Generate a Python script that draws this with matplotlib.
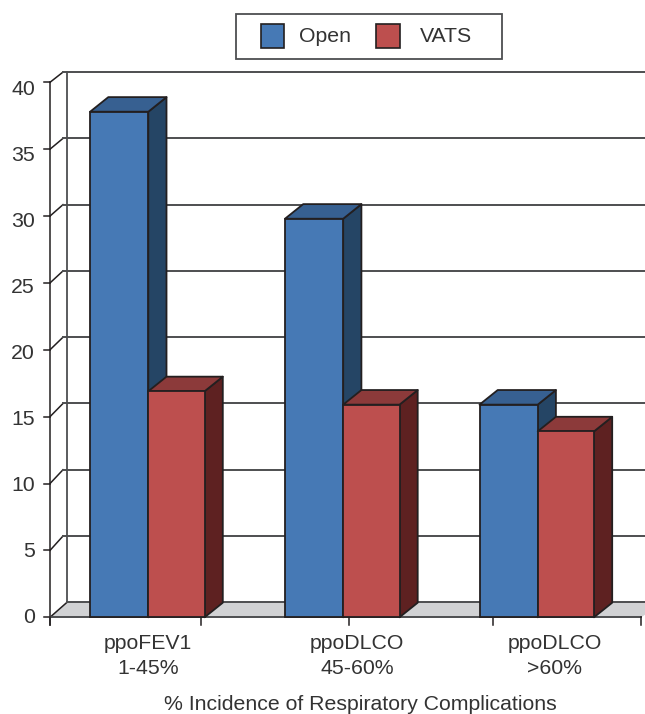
#!/usr/bin/env python3
"""Pseudo-3D clustered bars: respiratory complications, open vs VATS."""

import matplotlib

matplotlib.use("Agg")
import matplotlib.pyplot as plt
from matplotlib.patches import Polygon, Rectangle
from matplotlib.transforms import Affine2D

plt.rcParams["font.family"] = ["Liberation Sans", "DejaVu Sans"]

CATEGORIES = ["ppoFEV1\n1-45%", "ppoDLCO\n45-60%", "ppoDLCO\n>60%"]
SERIES = ["Open", "VATS"]
OPEN_VALUES = [37.8, 29.8, 15.9]
VATS_VALUES = [16.9, 15.9, 13.9]
Y_TICKS = [0, 5, 10, 15, 20, 25, 30, 35, 40]

WIDTH, HEIGHT = 645, 714
PX_PER_UNIT = 13.375
BASE_PX = 617.3
FONT_SIZE = 15.3

# x runs in pixels, y in chart units
GROUP_X = [148.3, 343.2, 537.7]
LABEL_X = [148, 357, 555]
TICK_X = [50, 200.7, 349.3, 492.7, 641]
FRONT_LEFT, BACK_LEFT = 50, 67
BAR_W = [58.2, 56.3]
DEPTH_X, DEPTH_Y = 18.2, 14.6 / PX_PER_UNIT

LINE = "#4d4e50"
EDGE = "#231f20"
TEXT = "#333333"
FLOOR = "#d1d2d4"
FACE = {"Open": "#4679b5", "VATS": "#bd4f4e"}
TOP = {"Open": "#376091", "VATS": "#8c3a3a"}
SIDE = {"Open": "#254565", "VATS": "#5e2121"}


def back_y(v):
    # the rear wall is a touch shorter than the front plane
    return v * 66.3 / 66.9 + 15.0 / PX_PER_UNIT


def draw_walls(ax):
    ax.add_patch(Polygon(
        [(FRONT_LEFT, 0), (BACK_LEFT, back_y(0)), (WIDTH + 20, back_y(0)), (TICK_X[-1], 0)],
        closed=True, facecolor=FLOOR, edgecolor="none", zorder=1,
    ))
    for v in Y_TICKS:
        ax.plot([FRONT_LEFT - 6, FRONT_LEFT], [v, v], color=EDGE, lw=1.1, zorder=2)
        end_x = BACK_LEFT if v == 0 else BACK_LEFT - 4
        ax.plot([FRONT_LEFT, end_x], [v, back_y(v)], color=EDGE, lw=1.1, zorder=2)
        ax.plot([end_x, WIDTH], [back_y(v), back_y(v)], color=LINE, lw=1.4, zorder=2)
        ax.text(35, v * 0.9875 - 0.05, str(v), ha="right", va="center", fontsize=FONT_SIZE, color=TEXT)

    ax.plot([BACK_LEFT, BACK_LEFT], [back_y(0), back_y(40)], color=LINE, lw=1.3, zorder=2)
    ax.plot([FRONT_LEFT, FRONT_LEFT], [-8 / PX_PER_UNIT, 40], color=EDGE, lw=1.1, zorder=2)
    ax.plot([FRONT_LEFT, TICK_X[-1]], [0, 0], color=LINE, lw=1.4, zorder=2)
    for x in TICK_X:
        ax.plot([x, x], [0, -8 / PX_PER_UNIT], color=EDGE, lw=1.1, zorder=2)


def draw_bar(ax, left, width, value, name, zorder):
    right = left + width
    style = dict(closed=True, edgecolor=EDGE, linewidth=1.3, joinstyle="round", zorder=zorder)
    ax.add_patch(Polygon(
        [(right, 0), (right + DEPTH_X, DEPTH_Y), (right + DEPTH_X, value + DEPTH_Y), (right, value)],
        facecolor=SIDE[name], **style,
    ))
    ax.add_patch(Polygon(
        [(left, value), (left + DEPTH_X, value + DEPTH_Y), (right + DEPTH_X, value + DEPTH_Y), (right, value)],
        facecolor=TOP[name], **style,
    ))
    ax.bar(left, value, width, align="edge", color=FACE[name], edgecolor=EDGE, linewidth=1.3, zorder=zorder)


def draw_legend(ax, pix):
    ax.add_patch(Rectangle((236, 14), 265.5, 45, transform=pix, facecolor="white",
                           edgecolor=LINE, linewidth=1.3, zorder=5))
    for name, box_x, text_x in zip(SERIES, [260.7, 376], [299, 420]):
        ax.add_patch(Rectangle((box_x, 24), 23.6, 23.6, transform=pix, facecolor=FACE[name],
                               edgecolor=EDGE, linewidth=1.2, zorder=6))
        ax.text(text_x, 36.5, name, transform=pix, ha="left", va="center",
                fontsize=FONT_SIZE, color=TEXT, zorder=6)


def main():
    fig = plt.figure(figsize=(WIDTH / 100, HEIGHT / 100), dpi=100)
    ax = fig.add_axes([0, 0, 1, 1])
    ax.set_xlim(0, WIDTH)
    ax.set_ylim((BASE_PX - HEIGHT) / PX_PER_UNIT, BASE_PX / PX_PER_UNIT)
    ax.axis("off")
    pix = Affine2D().scale(1 / WIDTH, -1 / HEIGHT).translate(0, 1) + fig.transFigure

    draw_walls(ax)

    for i, x in enumerate(GROUP_X):
        draw_bar(ax, x - BAR_W[0], BAR_W[0], OPEN_VALUES[i], "Open", 3)
        draw_bar(ax, x, BAR_W[1], VATS_VALUES[i], "VATS", 4)

    for x, label in zip(LABEL_X, CATEGORIES):
        ax.text(x, 656, label, transform=pix, ha="center", va="center",
                fontsize=FONT_SIZE, color=TEXT, linespacing=1.42)
    ax.text(360, 704.5, "% Incidence of Respiratory Complications", transform=pix,
            ha="center", va="center", fontsize=FONT_SIZE, color=TEXT)

    draw_legend(ax, pix)

    fig.savefig("out.png", dpi=100)
    plt.close(fig)


if __name__ == "__main__":
    main()
